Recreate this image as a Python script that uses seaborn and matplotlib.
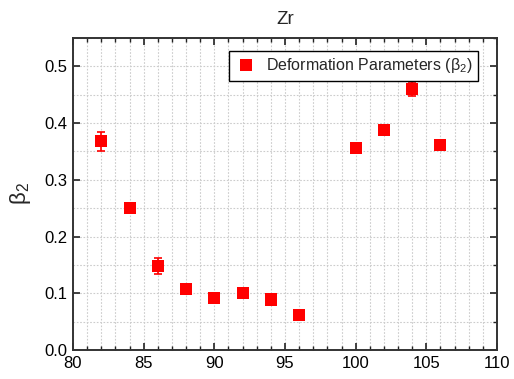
import matplotlib
matplotlib.use("Agg")
import matplotlib.pyplot as plt
from matplotlib.ticker import MultipleLocator
import seaborn as sns
import pandas as pd

mass_number = [82, 84, 86, 88, 90, 92, 94, 96, 100, 102, 104, 106]
beta2 = [0.368, 0.251, 0.148, 0.108, 0.091, 0.101, 0.089, 0.062, 0.356, 0.387, 0.460, 0.361]
beta2_err = [0.017, 0.004, 0.014, 0.004, 0.003, 0.003, 0.003, 0.003, 0.004, 0.004, 0.012, 0.009]

series_label = r"Deformation Parameters ($\mathregular{\beta_2}$)"
title = "Zr"
y_label = r"$\mathregular{\beta_2}$"

df = pd.DataFrame({"A": mass_number, "beta2": beta2, "err": beta2_err, "series": series_label})

sns.set_style("white")
plt.rcParams["font.family"] = ["Liberation Sans", "DejaVu Sans"]
plt.rcParams["mathtext.fontset"] = "custom"
plt.rcParams["mathtext.rm"] = "Liberation Sans"
plt.rcParams["mathtext.it"] = "Liberation Sans"

fig = plt.figure(figsize=(5.14, 3.79), dpi=100)
ax = fig.add_axes([73/514, 1 - 350/379, (497-73)/514, (350-38)/379])

ax.errorbar(df["A"], df["beta2"], yerr=df["err"], fmt="none", ecolor="#ff0000",
            elinewidth=1.2, capsize=3, capthick=1.2, zorder=3)
sns.scatterplot(data=df, x="A", y="beta2", hue="series", palette=["#ff0000"],
                marker="s", s=75, edgecolor="#ff0000", linewidth=0, ax=ax, zorder=4)

ax.set_xlim(80, 110)
ax.set_ylim(0, 0.55)
ax.xaxis.set_major_locator(MultipleLocator(5))
ax.xaxis.set_minor_locator(MultipleLocator(1))
ax.yaxis.set_major_locator(MultipleLocator(0.1))
ax.yaxis.set_minor_locator(MultipleLocator(0.05))
ax.yaxis.set_major_formatter(matplotlib.ticker.FormatStrFormatter("%.1f"))

ax.grid(True, which="both", axis="x", color="#cccccc", linestyle=(0, (1.5, 1.5)), linewidth=0.8)
ax.grid(True, which="both", axis="y", color="#cccccc", linestyle=(0, (1.5, 1.5)), linewidth=0.8)
ax.set_axisbelow(True)

ax.tick_params(which="major", direction="in", length=5, width=1.2, top=True, right=True,
               bottom=True, left=True, labelsize=12, colors="#222222", labelcolor="black", pad=4)
ax.tick_params(which="minor", direction="in", length=3, width=1.0, top=True, right=True,
               bottom=True, left=False, colors="#222222")

for sp in ax.spines.values():
    sp.set_linewidth(1.4)
    sp.set_color("#333333")

ax.set_xlabel("")
ax.set_ylabel(y_label, fontsize=16, labelpad=8)
ax.set_title(title, fontsize=13.5, pad=10)

handles, labels = ax.get_legend_handles_labels()
leg = ax.legend(handles, labels, loc="upper right", bbox_to_anchor=(0.975, 0.985), fontsize=11.5,
                frameon=True, fancybox=False, edgecolor="black", framealpha=1,
                handletextpad=0.6, borderpad=0.35, handlelength=1.4, markerscale=1.0)
leg.get_frame().set_linewidth(1.0)

fig.savefig("out.png", dpi=100)
